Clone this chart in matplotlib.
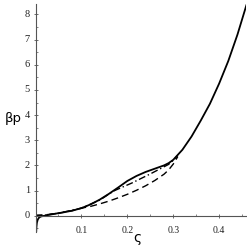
import matplotlib
matplotlib.use("Agg")
import matplotlib.pyplot as plt
from matplotlib.ticker import MultipleLocator

# solid curve
x_solid = [0.0015, 0.002, 0.003, 0.005, 0.008, 0.012, 0.02, 0.04, 0.06, 0.08,
           0.10, 0.12, 0.14, 0.16, 0.18, 0.20, 0.22, 0.24, 0.26, 0.28,
           0.29, 0.30, 0.32, 0.34, 0.36, 0.38, 0.40, 0.42, 0.44, 0.46]
y_solid = [-0.65, -0.45, -0.28, -0.15, -0.07, -0.03, 0.0, 0.07, 0.13, 0.2,
           0.3, 0.45, 0.64, 0.87, 1.12, 1.38, 1.58, 1.74, 1.87, 2.0,
           2.09, 2.22, 2.62, 3.15, 3.78, 4.45, 5.25, 6.15, 7.2, 8.4]

# dash-dot curve
x_dashdot = [0.0, 0.02, 0.05, 0.10, 0.14, 0.17, 0.19, 0.21, 0.23, 0.25, 0.27, 0.29, 0.30, 0.31]
y_dashdot = [0.0, 0.02, 0.1, 0.3, 0.62, 0.98, 1.14, 1.3, 1.48, 1.66, 1.85, 2.04, 2.2, 2.4]

# dashed curve
x_dashed = [0.0, 0.02, 0.05, 0.08, 0.10, 0.12, 0.14, 0.16, 0.18, 0.20, 0.22,
            0.24, 0.26, 0.28, 0.29, 0.30, 0.31]
y_dashed = [0.02, 0.03, 0.1, 0.2, 0.3, 0.37, 0.47, 0.58, 0.71, 0.85, 1.01,
            1.19, 1.4, 1.65, 1.82, 2.05, 2.35]

x_ticks = [0.1, 0.2, 0.3, 0.4]
y_ticks = [0, 1, 2, 3, 4, 5, 6, 7, 8]

fig = plt.figure(figsize=(2.47, 2.47), dpi=100)
ax = fig.add_axes([35.5 / 247, 0.0595, 210.5 / 247, 0.9227])

ax.plot(x_solid, y_solid, color="black", lw=1.3, solid_capstyle="butt")
ax.plot(x_dashdot, y_dashdot, color="black", lw=1.0, dashes=(5, 2, 1, 2))
ax.plot(x_dashed, y_dashed, color="black", lw=1.0, dashes=(5, 3))

ax.set_xlim(0, 0.4586)
ax.set_ylim(-0.66, 8.4)

for s in ["top", "right"]:
    ax.spines[s].set_visible(False)
ax.spines["bottom"].set_position(("data", 0))
for s in ["left", "bottom"]:
    ax.spines[s].set_color("#555555")
    ax.spines[s].set_linewidth(0.8)

ax.set_xticks(x_ticks)
ax.xaxis.set_minor_locator(MultipleLocator(0.05))
ax.set_xticklabels([str(t) for t in x_ticks], family="Liberation Serif")
ax.set_yticks(y_ticks)
ax.set_yticklabels([])
ax.yaxis.set_minor_locator(MultipleLocator(0.5))
# y tick labels drawn as plain texts next to the axis
for t in y_ticks:
    ax.annotate(str(t), xy=(0, t), xycoords=("axes fraction", "data"),
                xytext=(-4, 0), textcoords="offset points",
                ha="right", va="center", fontsize=7.5,
                family="Liberation Serif", color="#222222")

ax.tick_params(axis="both", which="major", direction="inout", length=3,
               width=0.6, color="#555555", labelsize=7, labelcolor="#222222")
ax.tick_params(axis="both", which="minor", direction="in", length=1.5,
               width=0.5, color="#555555")
ax.tick_params(axis="x", which="major", pad=6)

fig.text(13 / 247, 1 - 118 / 247, "βp", fontsize=9.5, ha="center", va="center")
fig.text(137 / 247, 1 - 238 / 247, "ς", fontsize=10, ha="center", va="center")

fig.savefig("out.png", dpi=100)
